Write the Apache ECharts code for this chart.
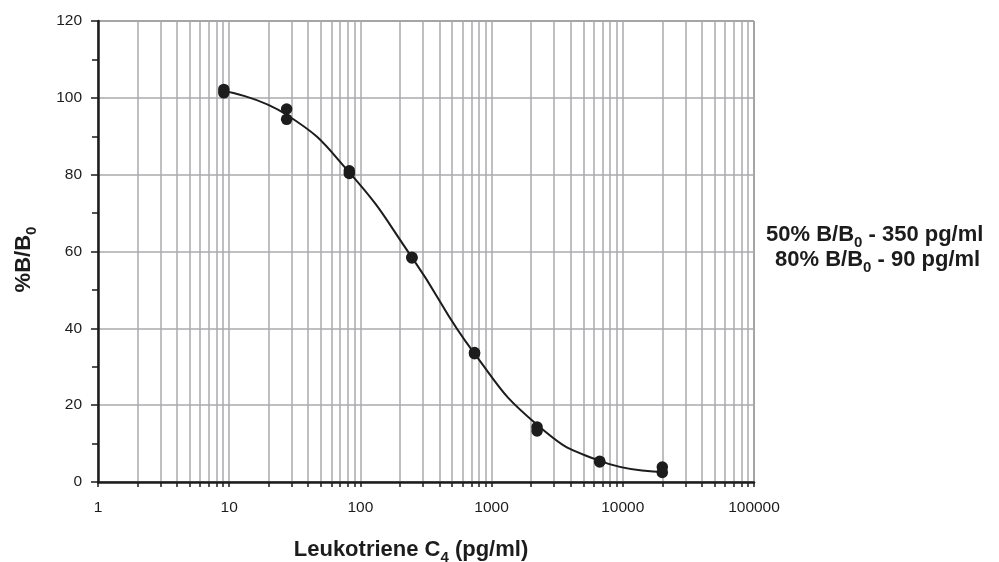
<!DOCTYPE html>
<html>
<head>
<meta charset="utf-8">
<script src="https://cdn.jsdelivr.net/npm/echarts@6/dist/echarts.min.js"></script>
<style>
html, body { margin: 0; padding: 0; background: #fff; }
#chart { width: 999px; height: 562px; }
</style>
</head>
<body>
<div id="chart"></div>
<script>
// standard doses (pg/ml), duplicate wells
var doses = [9.1, 27.4, 82.3, 247, 741, 2222, 6667, 20000];
var rep1 = [102.2, 97.1, 81.0, 58.5, 33.7, 14.3, 5.4, 3.9];
var rep2 = [101.3, 94.4, 80.3, 58.3, 33.4, 13.3, 5.2, 2.5];

// fitted curve
var fitX = [9.1, 27.4, 82.3, 248, 741, 2222, 6667, 20000];
var fitY = [101.8, 95.6, 80.6, 58.4, 33.4, 14.9, 5.5, 2.6];

var xLabels = [1, 10, 100, 1000, 10000, 100000];
var xGrid = [];
for (var d = 1; d < 100000; d *= 10) {
  for (var k = 1; k < 10; k++) xGrid.push(d * k);
}
xGrid.push(100000);

var pts = [];
for (var i = 0; i < doses.length; i++) {
  pts.push([doses[i], rep1[i]]);
  pts.push([doses[i], rep2[i]]);
}
var fit = [];
for (var j = 0; j < fitX.length; j++) fit.push([fitX[j], fitY[j]]);

var font = '"Liberation Sans", Arial, sans-serif';
var ink = '#1c1c1c';
var gridCol = '#aaaaae';

var bold = { fontFamily: font, fontSize: 22, fontWeight: 'bold', color: ink };
var sub = { fontFamily: font, fontSize: 15, fontWeight: 'bold', color: ink, padding: [15, 0, 0, 0] };

var chart = echarts.init(document.getElementById('chart'));

option = {
    backgroundColor: '#fff',
    animation: false,
    grid: {
        left: 98,
        right: 245,
        top: 21,
        bottom: 80,
        outerBoundsMode: 'none',
        containLabel: false,
        show: true,
        borderColor: '#333',
        borderWidth: 1
    },
    xAxis: {
        type: 'log',
        logBase: 10,
        min: 1,
        max: 100000,
        name: '{a|Leukotriene C}{s|4}{a| (pg/ml)}',
        nameLocation: 'middle',
        nameGap: 53,
        nameTextStyle: { padding: [0, 30, 0, 0], rich: { a: bold, s: sub } },
        axisLine: { lineStyle: { color: ink, width: 2.5 } },
        axisTick: { show: true, length: 5, customValues: xGrid, lineStyle: { color: ink, width: 1.5 } },
        axisLabel: {
            customValues: xLabels,
            margin: 18,
            fontFamily: font,
            fontSize: 15.5,
            color: ink,
            formatter: function (v) { return String(Math.round(v)); }
        },
        splitLine: { show: true, lineStyle: { color: gridCol, width: 1.5 } },
        minorTick: { show: false }
    },
    yAxis: {
        type: 'value',
        min: 0,
        max: 120,
        interval: 20,
        name: '{a|%B/B}{s|0}',
        nameLocation: 'middle',
        nameRotate: 90,
        nameGap: 59,
        nameTextStyle: { padding: [0, 16, 0, 0], rich: { a: bold, s: sub } },
        axisLine: { show: true, lineStyle: { color: ink, width: 2.5 } },
        axisTick: { show: true, length: 7, lineStyle: { color: ink, width: 1.5 } },
        minorTick: { show: true, splitNumber: 2, length: 6, lineStyle: { color: ink, width: 1.5 } },
        axisLabel: { margin: 16, fontFamily: font, fontSize: 15.5, color: ink },
        splitLine: { show: true, lineStyle: { color: gridCol, width: 1.5 } }
    },
    graphic: [{
        type: 'text',
        left: 766,
        top: 224,
        style: {
            text: '{a|50% B/B}{s|0}{a| - 350 pg/ml}',
            rich: {
                a: { fontFamily: font, fontSize: 22, fontWeight: 'bold', fill: ink },
                s: { fontFamily: font, fontSize: 15, fontWeight: 'bold', fill: ink, padding: [15, 0, 0, 0] }
            }
        }
    }, {
        type: 'text',
        left: 775,
        top: 249,
        style: {
            text: '{a|80% B/B}{s|0}{a| - 90 pg/ml}',
            rich: {
                a: { fontFamily: font, fontSize: 22, fontWeight: 'bold', fill: ink },
                s: { fontFamily: font, fontSize: 15, fontWeight: 'bold', fill: ink, padding: [15, 0, 0, 0] }
            }
        }
    }],
    series: [{
        name: 'fit',
        type: 'line',
        data: fit,
        smooth: 0.5,
        showSymbol: false,
        symbol: 'none',
        lineStyle: { color: ink, width: 2 },
        silent: true,
        z: 3
    }, {
        name: 'standards',
        type: 'scatter',
        data: pts,
        symbol: 'circle',
        symbolSize: 11.5,
        itemStyle: { color: ink, opacity: 1 },
        z: 4
    }]
};
chart.setOption(option);
</script>
</body>
</html>
